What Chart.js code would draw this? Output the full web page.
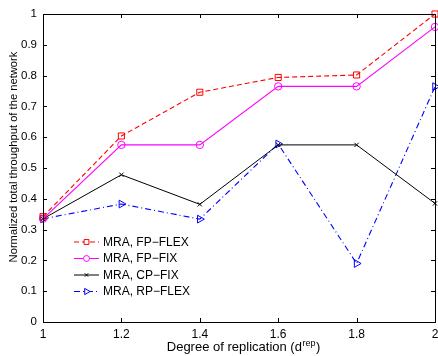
<!DOCTYPE html>
<html>
<head>
<meta charset="utf-8">
<script src="https://cdn.jsdelivr.net/npm/chart.js@4.4.1/dist/chart.umd.min.js"></script>
<style>
  html, body { margin: 0; padding: 0; background: #fff; }
  #wrap { width: 438px; height: 356px; }
</style>
</head>
<body>
<div id="wrap"><canvas id="chart" width="438" height="356"></canvas></div>
<script>
// x values: degree of replication
const degrees = [1, 1.2, 1.4, 1.6, 1.8, 2];
const xTicks = [1, 1.2, 1.4, 1.6, 1.8, 2];
const yTicks = [0, 0.1, 0.2, 0.3, 0.4, 0.5, 0.6, 0.7, 0.8, 0.9, 1];

// series values
const fpFlex = [0.342, 0.604, 0.746, 0.794, 0.802, 1.0];
const fpFix  = [0.335, 0.575, 0.575, 0.765, 0.765, 0.958];
const cpFix  = [0.335, 0.478, 0.382, 0.575, 0.575, 0.385];
const rpFlex = [0.335, 0.383, 0.334, 0.578, 0.190, 0.764];

const seriesNames = ['MRA, FP\u2212FLEX', 'MRA, FP\u2212FIX', 'MRA, CP\u2212FIX', 'MRA, RP\u2212FLEX'];

const FONT = '"Liberation Sans", Arial, Helvetica, sans-serif';

function pts(vals) {
    return degrees.map((d, i) => ({ x: d, y: vals[i] }));
}

// draws inward tick marks on all 4 sides + the box
const frameTicks = {
    id: 'frameTicks',
    afterDatasetsDraw(chart) {
        const { ctx, chartArea: a, scales } = chart;
        ctx.save();
        ctx.strokeStyle = '#000';
        ctx.lineWidth = 1;
        ctx.beginPath();
        xTicks.forEach(v => {
            const x = Math.round(scales.x.getPixelForValue(v)) + 0.5;
            ctx.moveTo(x, a.bottom); ctx.lineTo(x, a.bottom - 4);
            ctx.moveTo(x, a.top); ctx.lineTo(x, a.top + 4);
        });
        yTicks.forEach(v => {
            const y = Math.round(scales.y.getPixelForValue(v)) + 0.5;
            ctx.moveTo(a.left, y); ctx.lineTo(a.left + 4, y);
            ctx.moveTo(a.right, y); ctx.lineTo(a.right - 4, y);
        });
        ctx.stroke();
        ctx.strokeRect(Math.round(a.left) + 0.5, Math.round(a.top) + 0.5,
            Math.round(a.right - a.left), Math.round(a.bottom - a.top));
        ctx.restore();
    }
};

// legend inside the plot, lower left, no box
const insideLegend = {
    id: 'insideLegend',
    afterDraw(chart) {
        const { ctx, chartArea: a } = chart;
        const x0 = a.left + 31, lineLen = 25, rowH = 16.5;
        let y = a.top + 228;
        ctx.save();
        chart.data.datasets.forEach(ds => {
            ctx.strokeStyle = ds.borderColor;
            ctx.lineWidth = 1;
            ctx.setLineDash(ds.borderDash || []);
            ctx.beginPath();
            ctx.moveTo(x0, y); ctx.lineTo(x0 + lineLen, y);
            ctx.stroke();
            ctx.setLineDash([]);
            ctx.fillStyle = '#fff';
            Chart.helpers.drawPoint(ctx, {
                pointStyle: ds.pointStyle,
                radius: ds.pointRadius * 0.8,
                rotation: ds.pointRotation || 0,
                borderWidth: 1
            }, x0 + lineLen / 2, y);
            ctx.fillStyle = '#000';
            ctx.font = '12px ' + FONT;
            ctx.textBaseline = 'middle';
            ctx.fillText(ds.label, x0 + lineLen + 4, y + 0.5);
            y += rowH;
        });
        ctx.restore();
    }
};

// axis titles (x title has a superscript)
const axisTitles = {
    id: 'axisTitles',
    afterDraw(chart) {
        const { ctx } = chart;
        ctx.save();
        ctx.fillStyle = '#000';
        const big = '13px ' + FONT, small = '9px ' + FONT;
        ctx.textBaseline = 'alphabetic';
        const main = 'Degree of replication (d';
        const sup = 'rep';
        const tail = ')';
        ctx.font = big;
        const w1 = ctx.measureText(main).width;
        const w3 = ctx.measureText(tail).width;
        ctx.font = small;
        const w2 = ctx.measureText(sup).width;
        let x = 243 - (w1 + w2 + w3) / 2;
        const yb = 351;
        ctx.font = big;
        ctx.fillText(main, x, yb); x += w1;
        ctx.font = small;
        ctx.fillText(sup, x + 0.5, yb - 5); x += w2 + 1;
        ctx.font = big;
        ctx.fillText(tail, x, yb);

        ctx.translate(17, 157);
        ctx.rotate(-Math.PI / 2);
        ctx.textAlign = 'center';
        ctx.font = '11.2px ' + FONT;
        ctx.fillText('Normalized total throughput of the network', 0, 0);
        ctx.restore();
    }
};

const ctx = document.getElementById('chart');
new Chart(ctx, {
    type: 'line',
    data: {
        datasets: [
            {
                label: seriesNames[0], data: pts(fpFlex), clip: false,
                borderColor: '#ff0000', borderWidth: 1.1, borderDash: [5, 3],
                pointStyle: 'rect', pointRadius: 4.3, pointBorderColor: '#ff0000',
                pointBackgroundColor: 'rgba(0,0,0,0)', pointBorderWidth: 1
            },
            {
                label: seriesNames[1], data: pts(fpFix), clip: false,
                borderColor: '#ff00ff', borderWidth: 1.1,
                pointStyle: 'circle', pointRadius: 3.7, pointBorderColor: '#ff00ff',
                pointBackgroundColor: 'rgba(0,0,0,0)', pointBorderWidth: 1
            },
            {
                label: seriesNames[2], data: pts(cpFix), clip: false,
                borderColor: '#000000', borderWidth: 1,
                pointStyle: 'crossRot', pointRadius: 3, pointBorderColor: '#000000',
                pointBackgroundColor: 'rgba(0,0,0,0)', pointBorderWidth: 1
            },
            {
                label: seriesNames[3], data: pts(rpFlex), clip: false,
                borderColor: '#0000ff', borderWidth: 1.1, borderDash: [6, 3, 1, 3],
                pointStyle: 'triangle', pointRotation: 90, pointRadius: 4.5, pointBorderColor: '#0000ff',
                pointBackgroundColor: 'rgba(0,0,0,0)', pointBorderWidth: 1
            }
        ]
    },
    options: {
        responsive: false,
        animation: false,
        layout: { autoPadding: false, padding: { left: 0, top: 14, right: 3, bottom: 0 } },
        plugins: {
            legend: { display: false },
            tooltip: { enabled: false }
        },
        scales: {
            x: {
                type: 'linear', min: 1, max: 2,
                afterBuildTicks: axis => { axis.ticks = xTicks.map(v => ({ value: v })); },
                afterFit: axis => {
                    axis.height = 34;
                    axis.paddingLeft = 0; axis.paddingRight = 0;
                },
                grid: { display: false, drawTicks: false },
                border: { display: false },
                ticks: {
                    padding: 5, color: '#000', maxRotation: 0,
                    font: { family: FONT, size: 12 },
                    callback: v => String(parseFloat(v.toFixed(1)))
                }
            },
            y: {
                type: 'linear', min: 0, max: 1,
                afterBuildTicks: axis => { axis.ticks = yTicks.map(v => ({ value: v })); },
                afterFit: axis => {
                    axis.width = 43;
                    axis.paddingTop = 0; axis.paddingBottom = 0;
                },
                grid: { display: false, drawTicks: false },
                border: { display: false },
                ticks: {
                    padding: 6, color: '#000',
                    font: { family: FONT, size: 11.5 },
                    callback: v => String(parseFloat(v.toFixed(1)))
                }
            }
        }
    },
    plugins: [frameTicks, insideLegend, axisTitles]
});
</script>
</body>
</html>
